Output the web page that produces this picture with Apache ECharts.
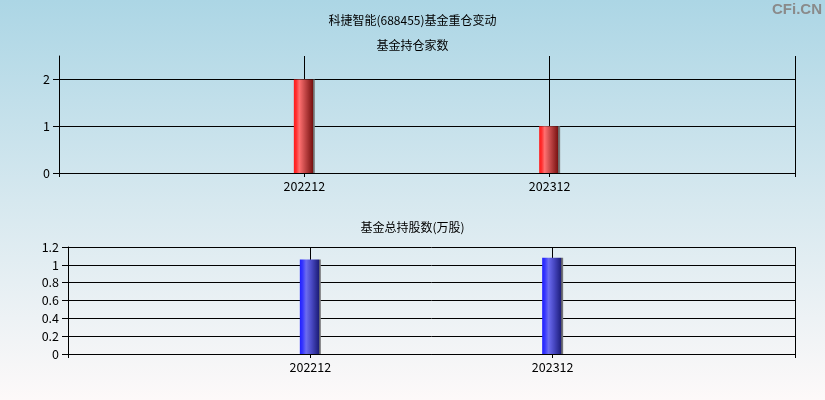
<!DOCTYPE html>
<html>
<head>
<meta charset="utf-8">
<script src="https://cdn.jsdelivr.net/npm/echarts@6/dist/echarts.min.js"></script>
<style>html,body{margin:0;padding:0;}#c{width:825px;height:400px;}</style>
</head>
<body>
<div id="c"></div>
<script>
const categories = ['', '202212', '202312', ''];
const fundCounts = [null, 2, 1, null];
const fundShares = [null, 1.06, 1.08, null];
const countTickValues = [0, 1, 2];
const mainTitle = '科捷智能(688455)基金重仓变动';
const topTitle = '基金持仓家数';
const bottomTitle = '基金总持股数(万股)';

const FONT = '"Noto Sans CJK SC", "Liberation Sans", sans-serif';
const chart = echarts.init(document.getElementById('c'));

const redGrad = new echarts.graphic.LinearGradient(0, 0, 1, 0, [
  {offset: 0, color: '#ff1a1a'},
  {offset: 0.12, color: '#ff3030'},
  {offset: 0.26, color: '#ff7070'},
  {offset: 0.55, color: '#c04545'},
  {offset: 0.91, color: '#761010'},
  {offset: 0.92, color: '#6a6a6a'},
  {offset: 1, color: '#808080'}
]);
const blueGrad = new echarts.graphic.LinearGradient(0, 0, 1, 0, [
  {offset: 0, color: '#2020ff'},
  {offset: 0.12, color: '#3434ff'},
  {offset: 0.3, color: '#6c6cf0'},
  {offset: 0.58, color: '#4646c0'},
  {offset: 0.91, color: '#1c1c78'},
  {offset: 0.92, color: '#5a5a6a'},
  {offset: 1, color: '#808080'}
]);

const axisLine = {show: true, lineStyle: {color: '#000', width: 1}};
const splitLine = {show: true, lineStyle: {color: '#000', width: 1, type: 'solid'}};

chart.setOption({
  animation: false,
  backgroundColor: {
    type: 'linear', x: 0, y: 0, x2: 0, y2: 1,
    colorStops: [
      {offset: 0, color: '#acd6e5'},
      {offset: 0.5, color: '#d6e8ef'},
      {offset: 1, color: '#fdf9f9'}
    ]
  },
  textStyle: {fontFamily: FONT},
  title: [
    {text: mainTitle, left: 'center', top: 9, textStyle: {fontSize: 12, fontWeight: 'normal', color: '#000', fontFamily: FONT}},
    {text: topTitle, left: 'center', top: 34, textStyle: {fontSize: 12, fontWeight: 'normal', color: '#000', fontFamily: FONT}},
    {text: bottomTitle, left: 'center', top: 216, textStyle: {fontSize: 12, fontWeight: 'normal', color: '#000', fontFamily: FONT}}
  ],
  graphic: [{
    type: 'text', right: 3, top: 2,
    style: {text: 'CFi.CN', fill: '#8a8a8a', font: 'bold 15px "Liberation Sans", Arial, sans-serif'}
  }],
  grid: [
    {left: 59, right: 30, top: 56, height: 117},
    {left: 68, right: 30, top: 247, height: 107}
  ],
  xAxis: [
    {
      type: 'category', gridIndex: 0, data: categories, boundaryGap: false,
      axisLine: axisLine,
      axisTick: {show: true, length: 4, lineStyle: {color: '#000'}},
      axisLabel: {color: '#000', fontSize: 12.5, margin: 7, fontFamily: FONT},
      splitLine: splitLine
    },
    {
      type: 'category', gridIndex: 1, data: categories, boundaryGap: false,
      axisLine: axisLine,
      axisTick: {show: true, length: 4, lineStyle: {color: '#000'}},
      axisLabel: {color: '#000', fontSize: 12.5, margin: 7, fontFamily: FONT},
      splitLine: splitLine
    }
  ],
  yAxis: [
    {
      type: 'value', gridIndex: 0, min: 0, max: 2.5, interval: 1,
      axisLine: axisLine,
      axisTick: {show: true, length: 6, lineStyle: {color: '#000'}, customValues: countTickValues},
      axisLabel: {color: '#000', fontSize: 12.5, margin: 9, fontFamily: FONT, customValues: countTickValues},
      splitLine: splitLine
    },
    {
      type: 'value', gridIndex: 1, min: 0, max: 1.2, interval: 0.2,
      axisLine: axisLine,
      axisTick: {show: true, length: 6, lineStyle: {color: '#000'}},
      axisLabel: {color: '#000', fontSize: 12.5, margin: 9, fontFamily: FONT,
        formatter: v => String(Math.round(v * 10) / 10)},
      splitLine: splitLine
    }
  ],
  series: [
    {
      type: 'bar', xAxisIndex: 0, yAxisIndex: 0, data: fundCounts,
      barWidth: 21, itemStyle: {color: redGrad}
    },
    {
      type: 'bar', xAxisIndex: 1, yAxisIndex: 1, data: fundShares,
      barWidth: 21, itemStyle: {color: blueGrad}
    }
  ]
});
</script>
</body>
</html>
